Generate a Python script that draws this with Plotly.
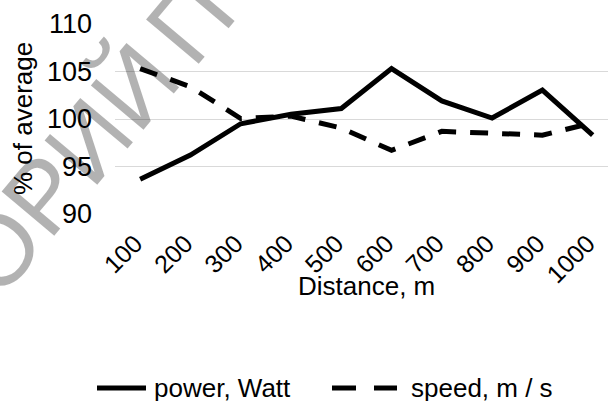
import plotly.graph_objects as go

# Distance splits and the two series, expressed as % of the run average
distances = ["100", "200", "300", "400", "500", "600", "700", "800", "900", "1000"]
power_watt = [93.65, 96.2, 99.5, 100.5, 101.1, 105.3, 101.9, 100.1, 103.05, 98.3]
speed_ms = [105.3, 103.4, 100.05, 100.3, 99.05, 96.7, 98.7, 98.5, 98.3, 99.6]

y_ticks = [90, 95, 100, 105, 110]
series_names = ["power, Watt", "speed, m / s"]
watermark_parts = ["ОРИЙ", "П"]

FONT = "Liberation Sans, Arial, sans-serif"
W, H = 608, 401
L, R, T, B = 115, 0, 24, 187

def px_x(px):
    return (px - L) / (W - L - R)

def px_y(py):
    return (H - B - py) / (H - T - B)

idx = list(range(len(distances)))

fig = go.Figure()
fig.add_trace(go.Scatter(
    x=idx, y=power_watt, mode="lines", name=series_names[0],
    line=dict(color="black", width=5), showlegend=False,
))
fig.add_trace(go.Scatter(
    x=idx, y=speed_ms, mode="lines", name=series_names[1],
    line=dict(color="black", width=5, dash="18px,14px"), showlegend=False,
))

# translucent diagonal stamp behind the data
stamp_font = dict(family=FONT, size=100, color="rgba(0,0,0,0.3)")
annotations = [
    dict(text=watermark_parts[0], x=px_x(64.8), y=px_y(169.1), xref="paper", yref="paper",
         showarrow=False, textangle=-50, xanchor="center", yanchor="middle", font=stamp_font),
    dict(text=watermark_parts[1], x=px_x(189.7), y=px_y(20.2), xref="paper", yref="paper",
         showarrow=False, textangle=-50, xanchor="center", yanchor="middle", font=stamp_font),
    dict(text="% of average", x=px_x(23), y=0.5, xref="paper", yref="paper",
         showarrow=False, textangle=-90, xanchor="center", yanchor="middle",
         font=dict(family=FONT, size=26, color="black")),
    dict(text="Distance, m", x=px_x(366), y=px_y(286), xref="paper", yref="paper",
         showarrow=False, xanchor="center", yanchor="middle",
         font=dict(family=FONT, size=26, color="black")),
    dict(text=series_names[0], x=px_x(152), y=px_y(388), xref="paper", yref="paper",
         showarrow=False, xanchor="left", yanchor="middle",
         font=dict(family=FONT, size=26, color="black")),
    dict(text=series_names[1], x=px_x(409), y=px_y(388), xref="paper", yref="paper",
         showarrow=False, xanchor="left", yanchor="middle",
         font=dict(family=FONT, size=26, color="black")),
]

# legend keys: solid and dashed strokes in front of the series names
shapes = [
    dict(type="line", xref="paper", yref="paper",
         x0=px_x(97), x1=px_x(146), y0=px_y(388), y1=px_y(388),
         line=dict(color="black", width=5)),
    dict(type="line", xref="paper", yref="paper",
         x0=px_x(332), x1=px_x(397), y0=px_y(388), y1=px_y(388),
         line=dict(color="black", width=5, dash="24px,18px")),
]

fig.update_layout(
    width=W, height=H,
    margin=dict(l=L, r=R, t=T, b=B, pad=0),
    paper_bgcolor="white", plot_bgcolor="white",
    font=dict(family=FONT, size=26, color="black"),
    showlegend=False,
    annotations=annotations,
    shapes=shapes,
)
fig.update_xaxes(
    range=[-0.5, 9.305], tickvals=idx, ticktext=distances, tickangle=-45,
    showgrid=False, zeroline=False, showline=False, ticks="",
    tickfont=dict(family=FONT, size=25, color="black"),
    ticklabelstandoff=9, ticklabelshift=-5,
)
fig.update_yaxes(
    range=[90, 110], tickvals=y_ticks, showgrid=True, gridcolor="#d9d9d9",
    gridwidth=1.4, zeroline=False, showline=False, ticks="",
    tickfont=dict(family=FONT, size=27, color="black"),
    ticklabelstandoff=22,
)

fig.write_html("out.html")
